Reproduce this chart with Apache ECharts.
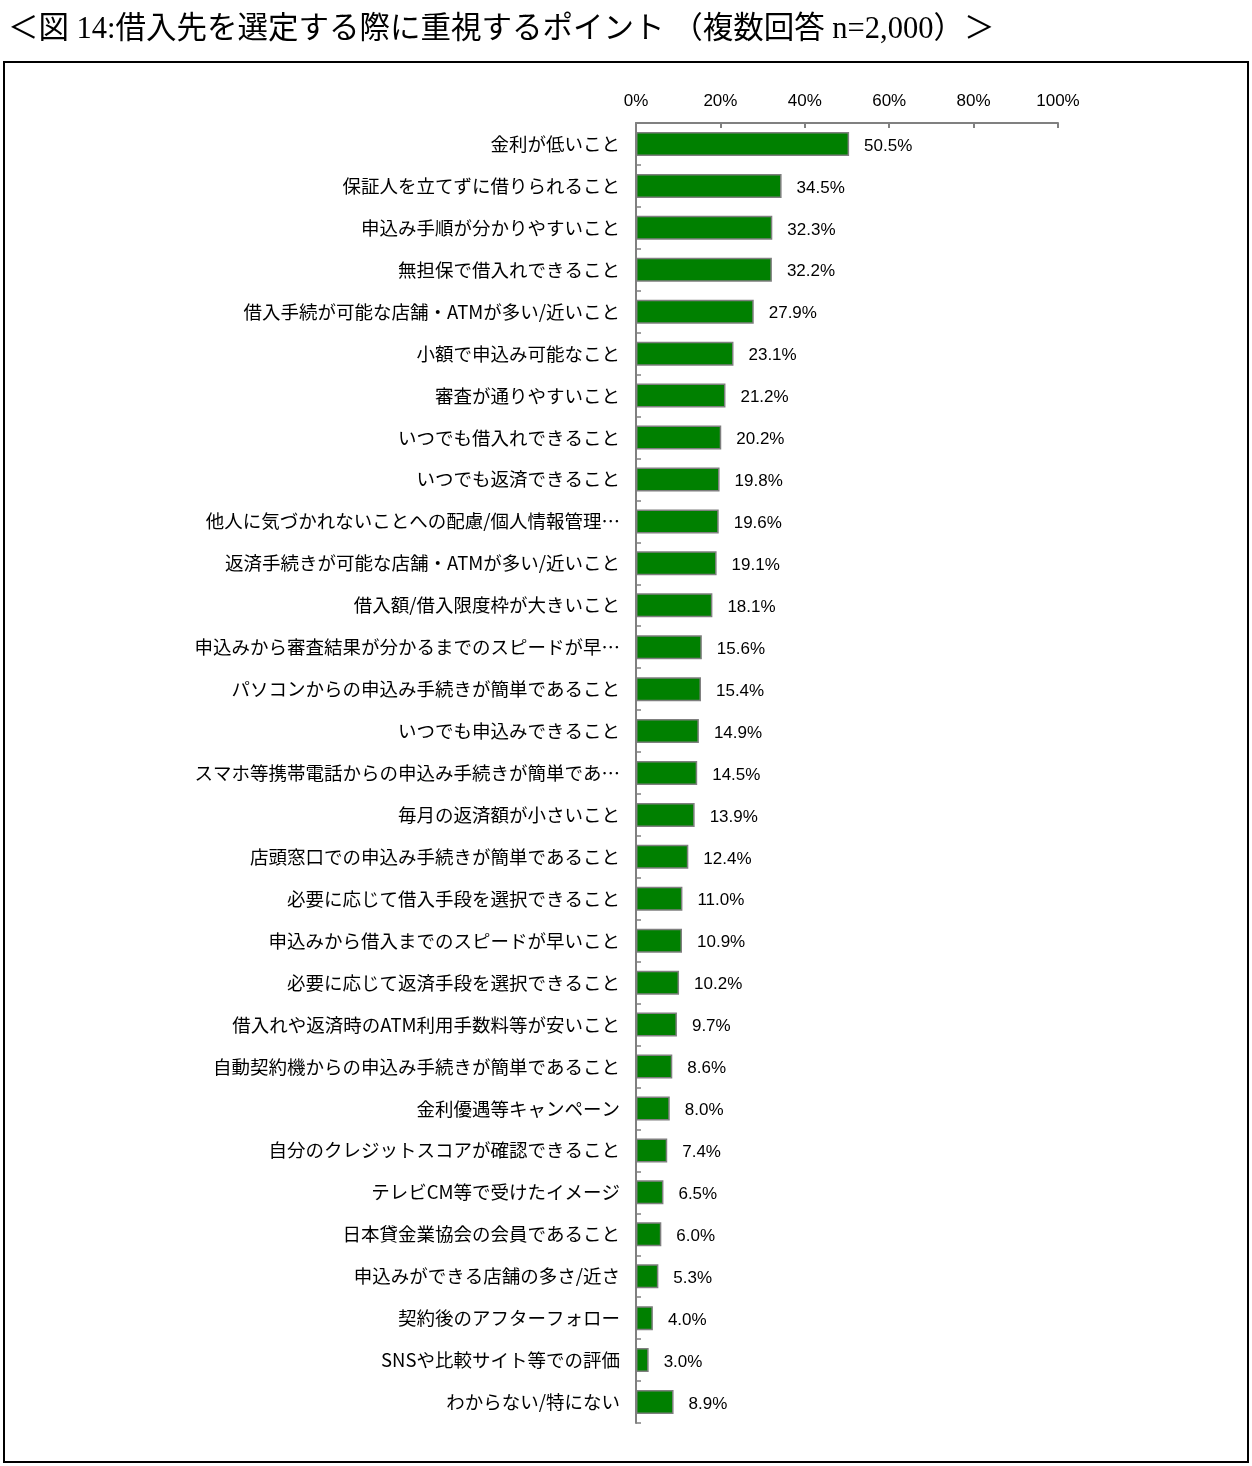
<!DOCTYPE html>
<html><head><meta charset="utf-8">
<script src="https://cdn.jsdelivr.net/npm/echarts@6/dist/echarts.min.js"></script>
<style>html,body{margin:0;padding:0;background:#fff;}#c{width:1252px;height:1466px;}</style>
</head><body><div id="c"></div>
<script>
const titleText = '＜図 14:借入先を選定する際に重視するポイント （複数回答 n=2,000）＞';
const categories = [
  '金利が低いこと',
  '保証人を立てずに借りられること',
  '申込み手順が分かりやすいこと',
  '無担保で借入れできること',
  '借入手続が可能な店舗・ATMが多い/近いこと',
  '小額で申込み可能なこと',
  '審査が通りやすいこと',
  'いつでも借入れできること',
  'いつでも返済できること',
  '他人に気づかれないことへの配慮/個人情報管理…',
  '返済手続きが可能な店舗・ATMが多い/近いこと',
  '借入額/借入限度枠が大きいこと',
  '申込みから審査結果が分かるまでのスピードが早…',
  'パソコンからの申込み手続きが簡単であること',
  'いつでも申込みできること',
  'スマホ等携帯電話からの申込み手続きが簡単であ…',
  '毎月の返済額が小さいこと',
  '店頭窓口での申込み手続きが簡単であること',
  '必要に応じて借入手段を選択できること',
  '申込みから借入までのスピードが早いこと',
  '必要に応じて返済手段を選択できること',
  '借入れや返済時のATM利用手数料等が安いこと',
  '自動契約機からの申込み手続きが簡単であること',
  '金利優遇等キャンペーン',
  '自分のクレジットスコアが確認できること',
  'テレビCM等で受けたイメージ',
  '日本貸金業協会の会員であること',
  '申込みができる店舗の多さ/近さ',
  '契約後のアフターフォロー',
  'SNSや比較サイト等での評価',
  'わからない/特にない'
];
const values = [50.5,34.5,32.3,32.2,27.9,23.1,21.2,20.2,19.8,19.6,19.1,18.1,15.6,15.4,14.9,14.5,13.9,12.4,11.0,10.9,10.2,9.7,8.6,8.0,7.4,6.5,6.0,5.3,4.0,3.0,8.9];

const chart = echarts.init(document.getElementById('c'), null, {renderer:'canvas'});
const sans = '"Noto Sans CJK JP", "Liberation Sans", sans-serif';
chart.setOption({
  animation: false,
  backgroundColor: '#fff',
  graphic: [
    {type:'text', left: 8, top: 15, style:{text: titleText, font: '30.5px "Liberation Serif", "Noto Sans CJK JP", serif', fill:'#000'}},
    {type:'rect', shape:{x:4, y:62, width:1244, height:1400}, style:{fill:'none', stroke:'#000', lineWidth:2}}
  ],
  grid: {left: 636, top: 123, width: 422, height: 1300, containLabel: false},
  xAxis: {
    type: 'value', position: 'top', min: 0, max: 100, interval: 20,
    axisLine: {show: true, lineStyle: {color: '#808080', width: 2}},
    axisTick: {show: true, inside: true, length: 5, lineStyle: {color: '#808080', width: 2}},
    splitLine: {show: false},
    axisLabel: {formatter: '{value}%', color: '#000', fontSize: 17, fontFamily: '"Liberation Sans", Arial, sans-serif', margin: 13}
  },
  yAxis: {
    type: 'category', inverse: true, data: categories,
    axisLine: {show: true, lineStyle: {color: '#808080', width: 2}},
    axisTick: {show: true, inside: true, length: 5, lineStyle: {color: '#808080', width: 1.5}},
    axisLabel: {color: '#000', fontSize: 18.5, fontFamily: sans, margin: 16}
  },
  series: [{
    type: 'bar', data: values, barWidth: 24,
    itemStyle: {color: '#008000', borderColor: '#7f7f7f', borderWidth: 1.5},
    label: {show: true, position: 'right', distance: 15, offset: [0, 2], color: '#000', fontSize: 17,
      fontFamily: '"Liberation Sans", Arial, sans-serif',
      formatter: p => p.value.toFixed(1) + '%'}
  }]
});
</script></body></html>
